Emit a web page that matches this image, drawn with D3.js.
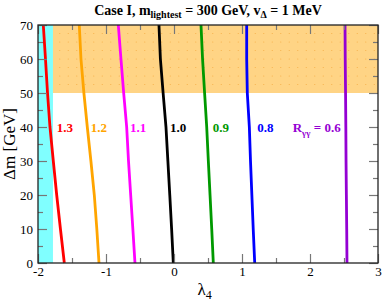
<!DOCTYPE html>
<html>
<head>
<meta charset="utf-8">
<script src="https://cdn.jsdelivr.net/npm/d3@7"></script>
<style>
  body { margin: 0; background: #fff; }
  text { font-family: "Liberation Serif", "DejaVu Serif", serif; }
</style>
</head>
<body>
<div id="chart"></div>
<script>
// Δm values at which each curve is sampled
const dm = [0, 10, 20, 30, 40, 50, 60, 70];
// λ4 of each R_γγ contour
const r13 = [-1.613, -1.67, -1.725, -1.775, -1.824, -1.86, -1.89, -1.922];
const r12 = [-1.103, -1.135, -1.172, -1.222, -1.275, -1.325, -1.368, -1.393];
const r11 = [-0.574, -0.605, -0.637, -0.669, -0.696, -0.74, -0.78, -0.819];
const r10 = [-0.01, -0.035, -0.062, -0.09, -0.118, -0.16, -0.2, -0.221];
const r09 = [0.578, 0.555, 0.53, 0.505, 0.481, 0.45, 0.42, 0.397];
const r08 = [1.187, 1.165, 1.145, 1.125, 1.108, 1.078, 1.069, 1.069];
const r06 = [2.544, 2.54, 2.535, 2.53, 2.527, 2.523, 2.518, 2.515];
const curveNames = ['1.3', '1.2', '1.1', '1.0', '0.9', '0.8', '0.6'];
const curveColors = ['#ff0000', '#ffa500', '#ff00ff', '#000000', '#009900', '#0000ff', '#9400d3'];
// label anchor (λ4, Δm)
const labelX = [-1.725, -1.225, -0.647, -0.059, 0.569, 1.225, 1.746];
const labelY = [38.5, 38.5, 38.5, 38.5, 38.5, 38.5, 38.5];
// excluded regions
const cyanMax = -1.78;
const orangeMin = 50;

const series = [r13, r12, r11, r10, r09, r08, r06];

const margin = { top: 25, right: 4, bottom: 40, left: 38 },
  width = 382 - margin.left - margin.right,
  height = 303 - margin.top - margin.bottom;

const svgRoot = d3.select('#chart')
  .append('svg')
  .attr('width', 382)
  .attr('height', 303);

const svg = svgRoot.append('g')
  .attr('transform', `translate(${margin.left},${margin.top})`);

const x = d3.scaleLinear().domain([-2, 3]).range([0, width]);
const y = d3.scaleLinear().domain([0, 70]).range([height, 0]);

// shaded regions
svg.append('rect')
  .attr('x', x(-2)).attr('y', y(70))
  .attr('width', x(cyanMax) - x(-2)).attr('height', y(0) - y(70))
  .attr('fill', '#80ffff');
svg.append('rect')
  .attr('x', x(cyanMax)).attr('y', y(70))
  .attr('width', x(3) - x(cyanMax)).attr('height', y(orangeMin) - y(70))
  .attr('fill', '#ffd485');

// faint dot pattern in the orange band
const dotsX = d3.range(cyanMax + 0.1, 3, 0.125);
const dotsY = d3.range(52.5, 70, 2.5);
svg.append('g')
  .selectAll('circle')
  .data(d3.cross(dotsX, dotsY))
  .join('circle')
  .attr('cx', (d) => x(d[0]))
  .attr('cy', (d) => y(d[1]))
  .attr('r', 0.6)
  .attr('fill', '#f5b04a');

// contour lines
const line = d3.line()
  .x((d) => x(d[0]))
  .y((d) => y(d[1]));

svg.append('g')
  .selectAll('path')
  .data(series)
  .join('path')
  .attr('d', (s) => line(s.map((v, i) => [v, dm[i]])))
  .attr('fill', 'none')
  .attr('stroke', (s, i) => curveColors[i])
  .attr('stroke-width', 2.8);

// axes with inward ticks on all sides
function ticks(axisGen, transform, values, size) {
  svg.append('g')
    .attr('transform', transform)
    .call(axisGen.tickValues(values).tickSize(size).tickFormat(''))
    .call((g) => g.select('.domain').remove())
    .selectAll('line').attr('stroke', '#777').attr('stroke-width', 1.2);
}
const xMajor = d3.range(-2, 3.01, 1);
const xMinor = d3.range(-1.5, 3, 1);
const yMajor = d3.range(0, 70.1, 10);
const yMinor = d3.range(5, 70, 10);

ticks(d3.axisTop(x), `translate(0,${height})`, xMajor, 9);
ticks(d3.axisTop(x), `translate(0,${height})`, xMinor, 5);
ticks(d3.axisBottom(x), 'translate(0,0)', xMajor, 9);
ticks(d3.axisBottom(x), 'translate(0,0)', xMinor, 5);
ticks(d3.axisRight(y), 'translate(0,0)', yMajor, 9);
ticks(d3.axisRight(y), 'translate(0,0)', yMinor, 5);
ticks(d3.axisLeft(y), `translate(${width},0)`, yMajor, 9);
ticks(d3.axisLeft(y), `translate(${width},0)`, yMinor, 5);

// frame
svg.append('rect')
  .attr('x', 0).attr('y', 0)
  .attr('width', width).attr('height', height)
  .attr('fill', 'none')
  .attr('stroke', '#222')
  .attr('stroke-width', 1.3);

// tick labels
const xLabels = svg.append('g')
  .attr('transform', `translate(0,${height})`)
  .call(d3.axisBottom(x).tickValues(xMajor).tickSize(0).tickPadding(4)
    .tickFormat((d) => (d < 0 ? '-' : '') + Math.abs(d)));
xLabels.select('.domain').remove();
xLabels.attr('font-family', null);
xLabels.selectAll('text')
  .style('font-family', '"Liberation Serif", serif')
  .style('font-size', '13px')
  .attr('fill', '#000');

const yLabels = svg.append('g')
  .call(d3.axisLeft(y).tickValues(yMajor).tickSize(0).tickPadding(5));
yLabels.select('.domain').remove();
yLabels.attr('font-family', null);
yLabels.selectAll('text')
  .style('font-family', '"Liberation Serif", serif')
  .style('font-size', '13px')
  .attr('fill', '#000');

// curve labels
const labels = svg.append('g')
  .selectAll('text')
  .data(curveNames)
  .join('text')
  .attr('x', (d, i) => x(labelX[i]))
  .attr('y', (d, i) => y(labelY[i]))
  .attr('fill', (d, i) => curveColors[i])
  .style('font-size', '13px')
  .style('font-weight', 'bold');
labels.each(function (d, i) {
  const t = d3.select(this);
  if (d === '0.6') {
    t.append('tspan').text('R');
    t.append('tspan').attr('font-size', '9px').attr('dy', 4).text('γγ');
    t.append('tspan').attr('dy', -4).text(' = 0.6');
  } else {
    t.text(d);
  }
});

// title
const title = svgRoot.append('text')
  .attr('x', margin.left + width / 2)
  .attr('y', 15)
  .attr('text-anchor', 'middle')
  .style('font-size', '14px')
  .style('font-weight', 'bold');
title.append('tspan').text('Case I, m');
title.append('tspan').attr('font-size', '10px').attr('dy', 3).text('lightest');
title.append('tspan').attr('dy', -3).text(' = 300 GeV, v');
title.append('tspan').attr('font-size', '10px').attr('dy', 3).text('Δ');
title.append('tspan').attr('dy', -3).text(' = 1 MeV');

// axis titles
const xt = svgRoot.append('text')
  .attr('x', margin.left + x(0.45))
  .attr('y', 295)
  .attr('text-anchor', 'middle')
  .style('font-size', '17px');
xt.append('tspan').text('λ');
xt.append('tspan').attr('font-size', '12px').attr('dy', 4).text('4');

svgRoot.append('text')
  .attr('transform', `translate(15,${margin.top + height / 2}) rotate(-90)`)
  .attr('text-anchor', 'middle')
  .style('font-size', '17px')
  .text('Δm [GeV]');
</script>
</body>
</html>
